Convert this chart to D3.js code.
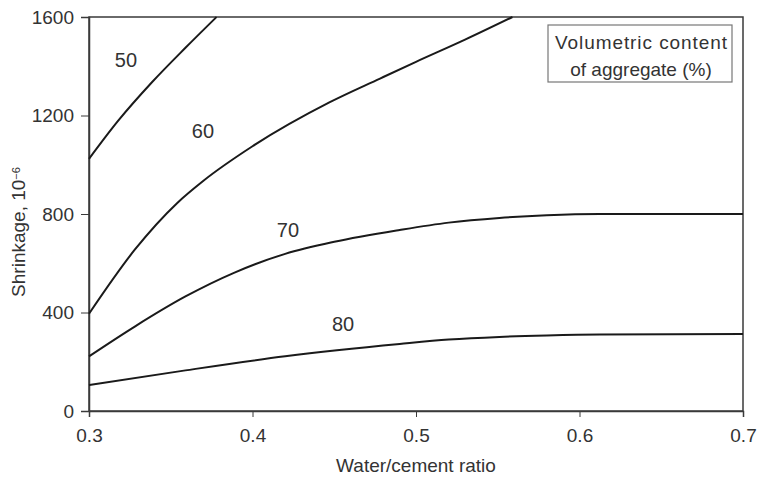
<!DOCTYPE html>
<html>
<head>
<meta charset="utf-8">
<script src="https://cdn.jsdelivr.net/npm/d3@7"></script>
<style>
  body { margin: 0; background: #fff; }
  text { font-family: Arial, "Liberation Sans", sans-serif; fill: #333; }
</style>
</head>
<body>
<svg id="chart"></svg>
<script>
// aggregate content (%) for each curve
const contents = ["50", "60", "70", "80"]

// water/cement ratio and shrinkage (10^-6)
const w50 = [0.3, 0.318, 0.3385, 0.359, 0.378]
const s50 = [1024, 1180, 1335, 1475, 1600]

const w60 = [0.3, 0.328, 0.354, 0.37, 0.4, 0.447, 0.478, 0.5, 0.53, 0.559]
const s60 = [395, 655, 845, 935, 1075, 1253, 1350, 1418, 1508, 1600]

const w70 = [0.3, 0.328, 0.359, 0.389, 0.42, 0.45, 0.49, 0.52, 0.551, 0.58, 0.6125, 0.7]
const s70 = [222, 343, 465, 562, 638, 687, 735, 765, 784, 795, 800, 800]

const w80 = [0.3, 0.359, 0.42, 0.49, 0.52, 0.551, 0.58, 0.6125, 0.7]
const s80 = [105, 165, 222, 272, 290, 301, 307, 311, 313]

// where the curve numbers sit
const labelW = [0.3226, 0.3697, 0.4217, 0.4554]
const labelS = [1426, 1139, 735, 352]

const xTicks = [0.3, 0.4, 0.5, 0.6, 0.7]
const yTicks = [0, 400, 800, 1200, 1600]

const WIDTH = 762
const HEIGHT = 478
const MARGIN = { top: 17, right: 19, bottom: 66, left: 89 }

const svg = d3.select("#chart")
    .attr("width", WIDTH)
    .attr("height", HEIGHT)

const x = d3.scaleLinear().domain([0.3, 0.7]).range([MARGIN.left, WIDTH - MARGIN.right])
const y = d3.scaleLinear().domain([0, 1600]).range([HEIGHT - MARGIN.bottom - 1, MARGIN.top])

const lineColor = "#3a3a3a"

// frame
svg.append("rect")
    .attr("x", x(0.3))
    .attr("y", y(1600))
    .attr("width", x(0.7) - x(0.3))
    .attr("height", y(0) - y(1600))
    .attr("fill", "none")
    .attr("stroke", lineColor)
    .attr("stroke-width", 1.5)

const xAxis = svg.append("g")
    .attr("transform", `translate(0, ${y(0)})`)
    .call(d3.axisBottom(x).tickValues(xTicks).tickFormat(d3.format(".1f")).tickSize(6).tickPadding(12))
xAxis.select(".domain").attr("stroke", lineColor).attr("stroke-width", 1.5)
xAxis.selectAll(".tick line").attr("stroke", lineColor)
xAxis.selectAll("text").style("font-size", "19px").attr("fill", "#444")

const yAxis = svg.append("g")
    .attr("transform", `translate(${x(0.3)}, 0)`)
    .call(d3.axisLeft(y).tickValues(yTicks).tickFormat(d3.format("d")).tickSize(8).tickPadding(7))
yAxis.select(".domain").attr("stroke", lineColor).attr("stroke-width", 1.5)
yAxis.selectAll(".tick line").attr("stroke", lineColor)
yAxis.selectAll("text").style("font-size", "19px").attr("fill", "#444")

// curves
const series = [[w50, s50], [w60, s60], [w70, s70], [w80, s80]]
const line = d3.line()
    .x(d => x(d[0]))
    .y(d => y(d[1]))
    .curve(d3.curveMonotoneX)

svg.append("g")
    .selectAll("path")
    .data(series)
    .enter()
    .append("path")
    .attr("d", d => line(d3.zip(d[0], d[1])))
    .attr("fill", "none")
    .attr("stroke", "#1a1a1a")
    .attr("stroke-width", 2)

svg.append("g")
    .selectAll("text")
    .data(contents)
    .enter()
    .append("text")
    .text(d => d)
    .attr("x", (d, i) => x(labelW[i]))
    .attr("y", (d, i) => y(labelS[i]))
    .attr("dy", "0.35em")
    .attr("text-anchor", "middle")
    .style("font-size", "20px")

// legend box
const legend = svg.append("g")
legend.append("rect")
    .attr("x", 548)
    .attr("y", 25)
    .attr("width", 184)
    .attr("height", 57)
    .attr("fill", "#fff")
    .attr("stroke", "#777")
    .attr("stroke-width", 1.2)
legend.append("text")
    .attr("x", 641).attr("y", 49)
    .attr("text-anchor", "middle")
    .style("font-size", "19px")
    .attr("textLength", 172)
    .text("Volumetric content")
legend.append("text")
    .attr("x", 641).attr("y", 76)
    .attr("text-anchor", "middle")
    .style("font-size", "19px")
    .text("of aggregate (%)")

// axis titles
svg.append("text")
    .attr("x", x(0.5))
    .attr("y", 472)
    .attr("text-anchor", "middle")
    .style("font-size", "19px")
    .text("Water/cement ratio")

const yTitle = svg.append("text")
    .attr("transform", "translate(25, 232) rotate(-90)")
    .attr("text-anchor", "middle")
    .style("font-size", "19px")
yTitle.append("tspan").text("Shrinkage, 10")
yTitle.append("tspan").text("−6").attr("dy", "-0.5em").style("font-size", "11px")
</script>
</body>
</html>
